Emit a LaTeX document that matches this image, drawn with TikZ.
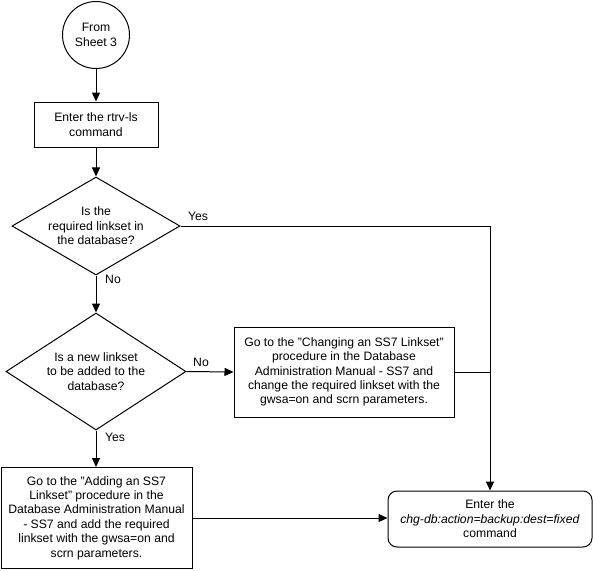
\documentclass[tikz,border=0pt]{standalone}
\usepackage{fontspec}
\setmainfont{Liberation Sans}
\usetikzlibrary{shapes.geometric,arrows.meta}
\begin{document}
\begin{tikzpicture}[x=1pt,y=-1pt,
  every node/.style={font=\fontsize{12.2}{14.4}\selectfont},
  box/.style={draw,line width=1pt,rectangle,inner sep=0pt,align=center},
  dec/.style={draw,line width=1pt,diamond,inner sep=0pt},
  dectext/.style={inner sep=0pt,align=center},
  term/.style={draw,line width=1pt,circle,inner sep=0pt,align=center},
  rbox/.style={draw,line width=1pt,rectangle,rounded corners=9pt,inner sep=0pt,align=center},
  conn/.style={line width=1pt,-{Triangle[length=9pt,width=8pt]}},
  plain/.style={line width=1pt},
  lbl/.style={inner sep=0pt}]
\useasboundingbox (0,0) rectangle (593,570);
\node[term,minimum size=67] (c) at (96,35) {From\\Sheet 3};
\node[box,minimum width=124,minimum height=45] (r1) at (96,124.5) {Enter the rtrv-ls\\command};
\node[dec,minimum width=168,minimum height=98] (d1) at (96,226) {};
\node[dectext] (d1t) at (d1.center) {Is the\\required linkset in\\the database?};
\node[dec,minimum width=180,minimum height=117] (d2) at (96,371.5) {};
\node[dectext] (d2t) at (d2.center) {Is a new linkset\\to be added to the\\database?};
\node[box,minimum width=220,minimum height=90] (r2) at (344,372) {Go to the "Changing an SS7 Linkset"\\procedure in the Database\\Administration Manual - SS7 and\\change the required linkset with the\\gwsa=on and scrn parameters.};
\node[box,minimum width=191,minimum height=101] (r3) at (96.5,518) {Go to the "Adding an SS7\\Linkset" procedure in the\\Database Administration Manual\\- SS7 and add the required\\linkset with the gwsa=on and\\scrn parameters.};
\node[rbox,minimum width=204,minimum height=56] (rb) at (490,519) {Enter the\\\textit{chg-db:action=backup:dest=fixed}\\command};
\draw[conn] (c) -- (r1);
\draw[conn] (r1) -- (d1);
\draw[conn] (d1.east) -| (rb.north);
\draw[conn] (d1.south) -- (d2.north);
\draw[conn] (d2.east) -- (r2.west);
\draw[conn] (d2.south) -- (d2.south |- r3.north);
\draw[plain] (r2.east) -- (r2.east -| rb.north);
\draw[conn] (r3.east) -- (r3.east -| rb.west);
\node[lbl] (y1) at (198,216) {Yes};
\node[lbl] (n1) at (113,279) {No};
\node[lbl] (n2) at (201,362) {No};
\node[lbl] (y2) at (115,437) {Yes};
\end{tikzpicture}
\end{document}
